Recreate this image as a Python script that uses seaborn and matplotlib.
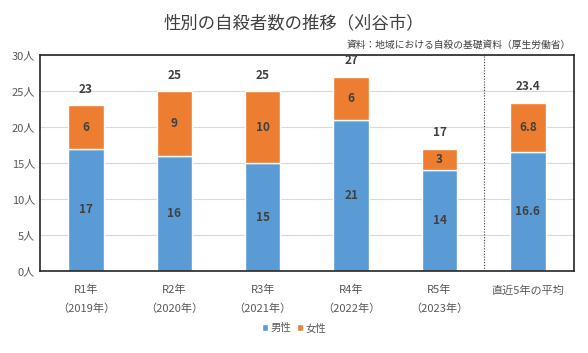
import numpy as np
import pandas as pd
import seaborn as sns
import matplotlib.pyplot as plt

categories = ["R1年\n（2019年）", "R2年\n（2020年）", "R3年\n（2021年）",
              "R4年\n（2022年）", "R5年\n（2023年）", "直近5年の平均"]
male = [17, 16, 15, 21, 14, 16.6]
female = [6, 9, 10, 6, 3, 6.8]
totals = [23, 25, 25, 27, 17, 23.4]
y_ticks = [0, 5, 10, 15, 20, 25, 30]

sns.set_style("white")
plt.rcParams["font.family"] = ["Noto Sans CJK JP", "DejaVu Sans"]

df = pd.DataFrame({"cat": categories, "male": male, "female": female, "total": totals})

blue = "#5B9BD5"
orange = "#ED7D31"
txt = "#404040"

fig = plt.figure(figsize=(5.88, 3.53), dpi=100)
ax = fig.add_axes([0.068, 0.232, 0.908, 0.612])

sns.barplot(data=df, x="cat", y="male", color=blue, width=0.4, ax=ax,
            saturation=1, label="男性")
sns.barplot(data=df, x="cat", y="female", bottom=df["male"], color=orange,
            width=0.4, ax=ax, saturation=1, label="女性")

def fmt(v):
    return f"{v:g}"

for i, row in df.iterrows():
    ax.text(i, row["male"] / 2, fmt(row["male"]), ha="center", va="center",
            fontsize=8.5, fontweight="bold", color=txt)
    ax.text(i, row["male"] + row["female"] / 2, fmt(row["female"]), ha="center",
            va="center", fontsize=8.5, fontweight="bold", color=txt)
    ax.text(i, row["total"] + 1.3, fmt(row["total"]), ha="center", va="bottom",
            fontsize=8.5, fontweight="bold", color=txt)

ax.axvline(4.5, color="#404040", linestyle=(0, (1, 1.5)), linewidth=0.8)

ax.set_ylim(0, 30)
ax.set_xlim(-0.52, 5.52)
ax.set_yticks(y_ticks)
ax.set_yticklabels([f"{t}人" for t in y_ticks])
ax.yaxis.grid(True, color="#D9D9D9", linewidth=0.8)
ax.set_axisbelow(True)
ax.set_xlabel("")
ax.set_ylabel("")
ax.tick_params(axis="both", length=0, labelsize=8, colors="#595959")
ax.tick_params(axis="x", pad=10)
for lbl in ax.get_xticklabels():
    lbl.set_linespacing(1.9)
    lbl.set_verticalalignment("top")
for s in ax.spines.values():
    s.set_color("#262626")
    s.set_linewidth(1.2)
    s.set_visible(True)

fig.text(0.5, 0.935, "性別の自殺者数の推移（刈谷市）", ha="center", va="center",
         fontsize=12.5, color="#404040")
fig.text(0.97, 0.873, "資料：地域における自殺の基礎資料（厚生労働省）", ha="right",
         va="center", fontsize=7, color="#404040")

handles, labels = ax.get_legend_handles_labels()
ax.legend(handles, labels, loc="center", bbox_to_anchor=(0.5, 0.07),
          bbox_transform=fig.transFigure, ncol=2, frameon=False, fontsize=7.5,
          handlelength=0.6, handleheight=0.6, handletextpad=0.2,
          columnspacing=0.6, labelcolor="#595959")

fig.savefig("out.png", dpi=100)
plt.close()
